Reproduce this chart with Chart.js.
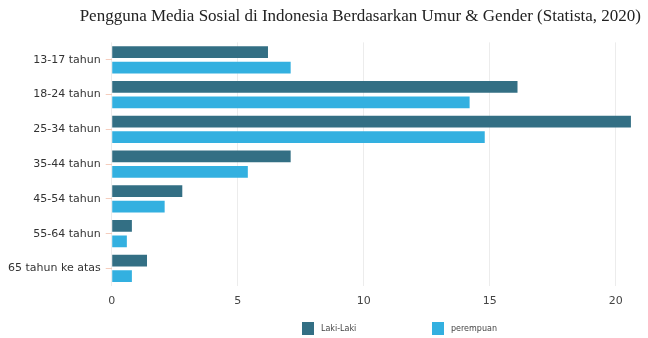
<!DOCTYPE html>
<html>
<head>
<meta charset="utf-8">
<script src="https://cdn.jsdelivr.net/npm/chart.js@4.4.1/dist/chart.umd.min.js"></script>
<style>
  html, body { margin: 0; padding: 0; background: #fff; }
  #wrap { position: relative; width: 648px; height: 338px; }
  #legend { position: absolute; left: 302px; top: 322px; display: flex;
            font: 8px "DejaVu Sans", sans-serif; color: #444; }
  #legend .item { display: flex; align-items: center; width: 130px; }
  #legend .box { width: 12px; height: 13px; margin-right: 7px; }
</style>
</head>
<body>
<div id="wrap">
  <canvas id="chart" width="648" height="338"></canvas>
  <div id="legend"></div>
</div>
<script>
// data
const ageGroups = ["13-17 tahun", "18-24 tahun", "25-34 tahun", "35-44 tahun", "45-54 tahun", "55-64 tahun", "65 tahun ke atas"];
const lakiLaki  = [6.2, 16.1, 20.6, 7.1, 2.8, 0.8, 1.4];
const perempuan = [7.1, 14.2, 14.8, 5.4, 2.1, 0.6, 0.8];
const xTicks = [0, 5, 10, 15, 20];

const colors = { laki: "#336f84", perempuan: "#33b0e0" };

const chart = new Chart(document.getElementById("chart"), {
  type: "bar",
  data: {
    labels: ageGroups,
    datasets: [
      { label: "Laki-Laki", data: lakiLaki, backgroundColor: colors.laki },
      { label: "perempuan", data: perempuan, backgroundColor: colors.perempuan }
    ]
  },
  options: {
    indexAxis: "y",
    responsive: false,
    animation: false,
    categoryPercentage: 0.89,
    barPercentage: 0.76,
    layout: { padding: { left: 3, right: 7, bottom: 21 } },
    plugins: {
      legend: { display: false },
      tooltip: { enabled: false },
      title: {
        display: true,
        align: "end",
        text: "Pengguna Media Sosial di Indonesia Berdasarkan Umur & Gender (Statista, 2020)",
        color: "#222",
        font: { family: "Liberation Serif", size: 17, weight: "normal" },
        padding: { top: 6, bottom: 16 }
      }
    },
    scales: {
      x: {
        min: 0,
        max: 21,
        ticks: {
          stepSize: 5,
          color: "#444",
          padding: 9,
          font: { family: "DejaVu Sans", size: 11 }
        },
        afterBuildTicks: scale => {
          scale.ticks = scale.ticks.filter(t => xTicks.includes(t.value));
        },
        grid: { color: "#ececec", drawTicks: false },
        border: { display: false }
      },
      y: {
        ticks: {
          color: "#333",
          padding: 5,
          font: { family: "DejaVu Sans", size: 11 }
        },
        grid: { offset: false, drawOnChartArea: false, tickLength: 6, color: "#f5cdbd" },
        border: { display: false }
      }
    }
  }
});

// html legend, built from the datasets
const legendEl = document.getElementById("legend");
chart.data.datasets.forEach(ds => {
  const item = document.createElement("div");
  item.className = "item";
  item.innerHTML = `<span class="box" style="background:${ds.backgroundColor}"></span><span>${ds.label}</span>`;
  legendEl.appendChild(item);
});
</script>
</body>
</html>
